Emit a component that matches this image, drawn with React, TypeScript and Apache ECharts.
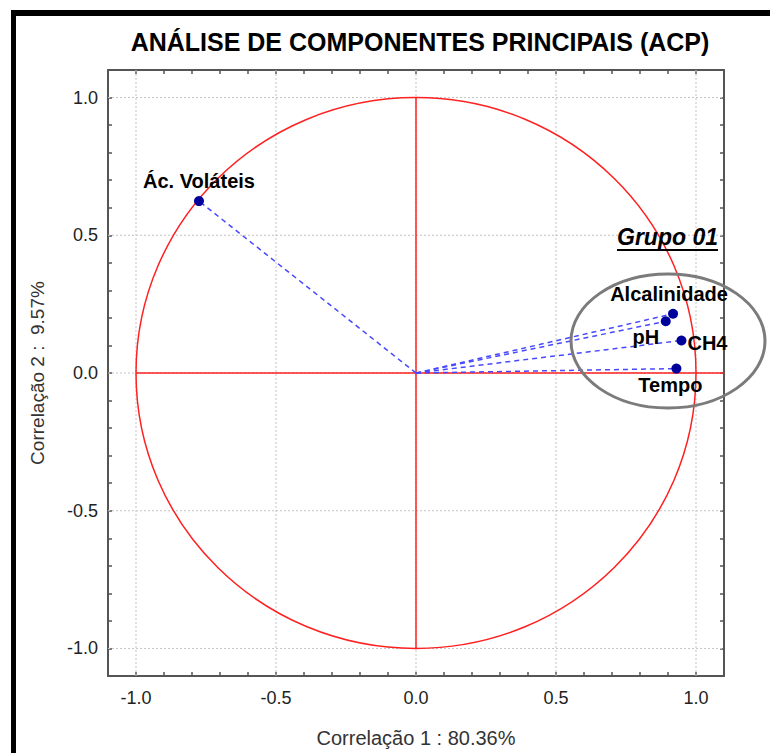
import React, { useEffect, useRef } from "react";
import * as echarts from "echarts";

// ---- data ----
const variables = ["Ác. Voláteis", "Alcalinidade", "pH", "CH4", "Tempo"];
const corr1 = [-0.775, 0.918, 0.892, 0.948, 0.93];
const corr2 = [0.624, 0.215, 0.188, 0.118, 0.016];
const gridValues = [-1, -0.5, 0, 0.5, 1];
const axisMin = -1.1;
const axisMax = 1.1;
const circleRadius = 1;

const titleText = "ANÁLISE DE COMPONENTES PRINCIPAIS (ACP)";
const xName = "Correlação 1 : 80.36%";
const yName = "Correlação 2 :  9.57%";
const groupLabel = "Grupo 01";

const FONT = "Liberation Sans, Arial, sans-serif";

const labelPlacement: Record<string, any> = {
  "Ác. Voláteis": { position: "top", distance: 5 },
  Alcalinidade: { position: "top", distance: 5, offset: [-4, 0] },
  pH: { position: "bottom", distance: 1, offset: [-20, 0] },
  CH4: { position: "right", distance: 1, offset: [0, 3] },
  Tempo: { position: "bottom", distance: 1, offset: [-6, 0] },
};

export default function App() {
  const ref = useRef<HTMLDivElement>(null);
  useEffect(() => {
    if (!ref.current) return;
    const chart = echarts.init(ref.current, null, { renderer: "svg" });

    const axisCommon = {
      type: "value" as const,
      min: axisMin,
      max: axisMax,
      interval: 0.1,
      axisLine: { show: true, onZero: false, lineStyle: { color: "#555", width: 2 } },
      axisTick: { show: true, inside: true, length: 4, lineStyle: { color: "#555", width: 1.5 } },
      splitLine: { show: false },
      minorSplitLine: { show: false },
      splitArea: { show: false },
    };
    const fmt = (v: number) => {
      const k = Math.round(v * 10);
      return k % 5 === 0 ? (k / 10).toFixed(1) : "";
    };
    const tickLabel = {
      show: true,
      formatter: fmt,
      color: "#222",
      fontSize: 18,
      fontFamily: FONT,
    };

    const vectorSeries = variables.map((name, i) => ({
      type: "line",
      name: name + "-vec",
      data: [
        [0, 0],
        [corr1[i], corr2[i]],
      ],
      showSymbol: false,
      symbol: "none",
      silent: true,
      z: 3,
      lineStyle: { color: "#4848ff", width: 1.5, type: [5, 4] },
    }));

    const option: any = {
      animation: false,
      backgroundColor: "#fff",
      grid: { left: 108, right: 46, top: 70, bottom: 73, containLabel: false },
      xAxis: [
        {
          ...axisCommon,
          position: "bottom",
          axisLabel: { ...tickLabel, margin: 13 },
          name: xName,
          nameLocation: "middle",
          nameGap: 52,
          nameTextStyle: { fontFamily: FONT, fontSize: 20, color: "#333" },
        },
        { ...axisCommon, position: "top", axisLabel: { show: false } },
      ],
      yAxis: [
        {
          ...axisCommon,
          position: "left",
          axisLabel: { ...tickLabel, margin: 10 },
          name: yName,
          nameLocation: "middle",
          nameGap: 61,
          nameTextStyle: { fontFamily: FONT, fontSize: 19, color: "#333" },
        },
        { ...axisCommon, position: "right", axisLabel: { show: false } },
      ],
      graphic: [
        { type: "rect", shape: { x: 11, y: 10, width: 5, height: 743 }, style: { fill: "#000" } },
        { type: "rect", shape: { x: 11, y: 10, width: 759, height: 6 }, style: { fill: "#000" } },
        {
          type: "text",
          x: 420,
          y: 42,
          style: {
            text: titleText,
            font: "bold 25px " + FONT,
            fill: "#000",
            textAlign: "center",
            textVerticalAlign: "middle",
          },
        },
        {
          type: "ellipse",
          shape: { cx: 668, cy: 341, rx: 97, ry: 67 },
          style: { fill: "none", stroke: "#7b7b7b", lineWidth: 3 },
          z: 10,
        },
        {
          type: "text",
          x: 617,
          y: 248,
          style: {
            text: groupLabel,
            font: "italic bold 23px " + FONT,
            fill: "#000",
            textVerticalAlign: "bottom",
          },
          z: 10,
        },
        {
          type: "line",
          shape: { x1: 617, y1: 250, x2: 718, y2: 250 },
          style: { stroke: "#000", lineWidth: 2 },
          z: 10,
        },
      ],
      series: [
        {
          type: "custom",
          name: "grid",
          silent: true,
          z: 1,
          clip: false,
          data: gridValues.map((v) => [v, v]),
          encode: { x: 0, y: 1 },
          renderItem: (params: any, api: any) => {
            const v = api.value(0);
            const a = api.coord([v, axisMin]);
            const b = api.coord([v, axisMax]);
            const c = api.coord([axisMin, v]);
            const d = api.coord([axisMax, v]);
            const style = { stroke: "#c4c4c4", lineWidth: 1, lineDash: [2, 2] };
            return {
              type: "group",
              children: [
                { type: "line", shape: { x1: a[0], y1: a[1], x2: b[0], y2: b[1] }, style },
                { type: "line", shape: { x1: c[0], y1: c[1], x2: d[0], y2: d[1] }, style },
              ],
            };
          },
        },
        {
          type: "custom",
          name: "circle",
          silent: true,
          z: 2,
          clip: false,
          data: [[0, 0]],
          encode: { x: 0, y: 1 },
          renderItem: (params: any, api: any) => {
            const c = api.coord([0, 0]);
            const s = api.size([circleRadius, circleRadius]);
            const h1 = api.coord([-circleRadius, 0]);
            const h2 = api.coord([axisMax, 0]);
            const v1 = api.coord([0, -circleRadius]);
            const v2 = api.coord([0, circleRadius]);
            const style = { stroke: "#ff2020", lineWidth: 1.5, fill: "none" };
            return {
              type: "group",
              children: [
                { type: "ellipse", shape: { cx: c[0], cy: c[1], rx: s[0], ry: s[1] }, style },
                { type: "line", shape: { x1: h1[0], y1: h1[1], x2: h2[0], y2: h2[1] }, style },
                { type: "line", shape: { x1: v1[0], y1: v1[1], x2: v2[0], y2: v2[1] }, style },
              ],
            };
          },
        },
        ...vectorSeries,
        {
          type: "scatter",
          name: "variables",
          z: 5,
          symbol: "circle",
          symbolSize: 10,
          itemStyle: { color: "#00009a", opacity: 1 },
          label: {
            show: true,
            formatter: "{b}",
            color: "#000",
            fontFamily: FONT,
            fontWeight: "bold",
            fontSize: 20,
          },
          data: variables.map((name, i) => ({
            name,
            value: [corr1[i], corr2[i]],
            label: labelPlacement[name],
          })),
        },
      ],
    };
    chart.setOption(option);
    return () => chart.dispose();
  }, []);
  return (
    <div
      ref={ref}
      style={{ position: "fixed", left: 0, top: 0, width: 770, height: 753, background: "#fff" }}
    />
  );
}
